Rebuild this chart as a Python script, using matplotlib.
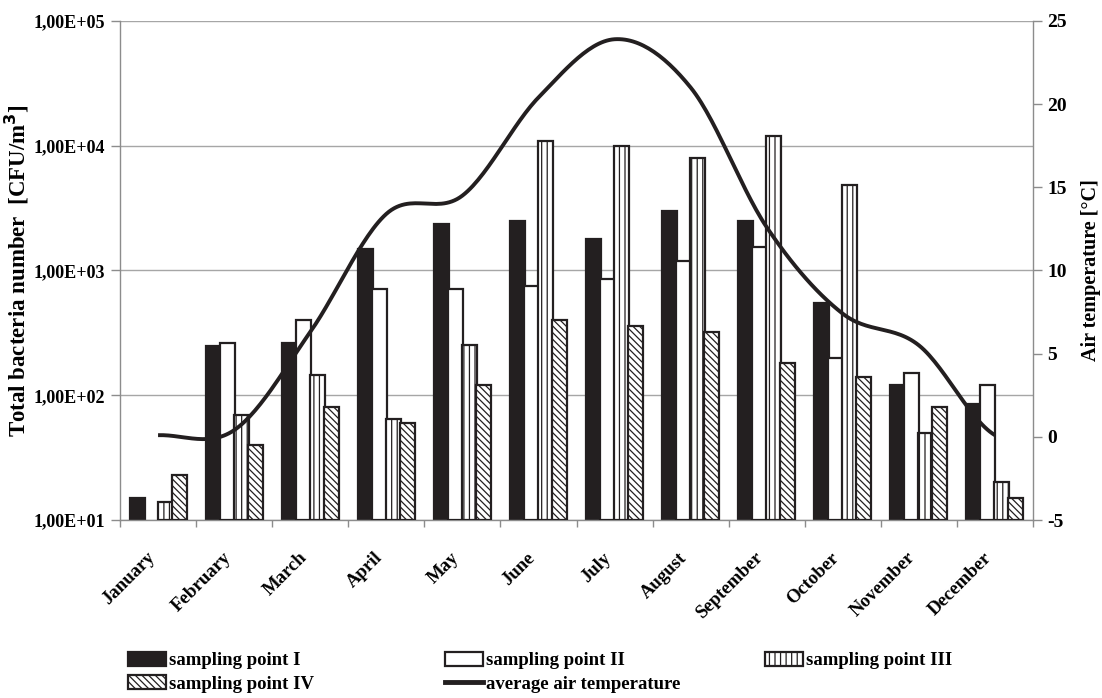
import numpy as np
import matplotlib.pyplot as plt
from matplotlib.patches import Patch
from matplotlib.lines import Line2D
from matplotlib.ticker import FixedLocator, FuncFormatter, NullLocator

plt.rcParams['font.family'] = ['Liberation Serif', 'DejaVu Serif']
plt.rcParams['font.weight'] = 'bold'
plt.rcParams['hatch.linewidth'] = 0.9
plt.rcParams['axes.unicode_minus'] = False

# data
months = ['January', 'February', 'March', 'April', 'May', 'June', 'July',
          'August', 'September', 'October', 'November', 'December']
point_i = [15, 250, 260, 1500, 2350, 2500, 1800, 3000, 2500, 550, 120, 85]
point_ii = [np.nan, 260, 400, 710, 710, 750, 850, 1200, 1550, 200, 150, 120]
point_iii = [14, 70, 145, 65, 255, 11000, 10000, 8000, 12000, 4800, 50, 20]
point_iv = [23, 40, 80, 60, 120, 400, 360, 320, 180, 140, 80, 15]
temp = [0.1, 0.4, 6.3, 13.4, 14.5, 20.4, 23.9, 21.0, 12.6, 7.4, 5.5, 0.1]

dark = '#231f20'
grey = '#8c8c8c'

fig = plt.figure(figsize=(11.02, 6.98), dpi=100)
ax = fig.add_axes([0.1089, 0.255, 0.8285, 0.715])

x = np.arange(len(months))
w = 0.197
s = 0.184
styles = [
    dict(color=dark, edgecolor=dark),
    dict(color='white', edgecolor=dark),
    dict(color='white', edgecolor=dark, hatch='|||'),
    dict(color='white', edgecolor=dark, hatch='\\\\\\\\\\'),
]
series = [point_i, point_ii, point_iii, point_iv]
for k, (vals, st) in enumerate(zip(series, styles)):
    v = np.array(vals, dtype=float)
    ax.bar(x + (k - 1.5) * s, v - 10, bottom=10, width=w, linewidth=1.6,
           zorder=2 + k, **st)

ax.set_yscale('log')
ax.set_ylim(10, 1e5)
ax.set_xlim(-0.5, 11.5)
ax.yaxis.set_major_locator(FixedLocator([1e1, 1e2, 1e3, 1e4, 1e5]))
ax.yaxis.set_minor_locator(NullLocator())
ax.yaxis.set_major_formatter(FuncFormatter(
    lambda v, p: '1,00E+%02d' % int(round(np.log10(v)))))
ax.yaxis.grid(True, color='#a6a6a6', linewidth=1.0)
ax.set_axisbelow(True)

ax.set_xticks(x)
ax.set_xticklabels(months, rotation=45, ha='right')
ax.set_xticks(np.arange(-0.5, 12, 1), minor=True)
ax.tick_params(axis='x', which='major', length=0, pad=21, labelsize=13.5)
ax.tick_params(axis='x', which='minor', length=5, width=1, color=grey)
ax.tick_params(axis='y', length=6.5, width=1, color=grey, pad=4, labelsize=13)

for side in ['left', 'bottom', 'right']:
    ax.spines[side].set_color(grey)
    ax.spines[side].set_linewidth(1)
ax.spines['top'].set_visible(False)

ax.set_ylabel('Total bacteria number  [CFU/m$^\\mathbf{3}$]', fontsize=16.5,
              fontweight='bold', labelpad=2)

# temperature on secondary axis, smoothed like a spreadsheet curve
ax2 = ax.twinx()
ax2.set_ylim(-5, 25)
ax2.set_yticks(np.arange(-5, 26, 5))
ax2.tick_params(axis='y', length=6.5, width=1, color=grey, pad=4, labelsize=14)
for side in ['left', 'bottom', 'right', 'top']:
    ax2.spines[side].set_visible(False)
ax2.set_ylabel('Air temperature [°C]', fontsize=14.5, fontweight='bold',
               labelpad=10)

t = np.array(temp)
n = len(t)
xs, ys = [], []
for i in range(n - 1):
    m0 = (t[i + 1] - t[i - 1]) / 2 if i > 0 else (t[1] - t[0]) / 2
    m1 = (t[i + 2] - t[i]) / 2 if i + 2 < n else (t[n - 1] - t[n - 2]) / 2
    u = np.linspace(0, 1, 30)
    h00 = 2 * u**3 - 3 * u**2 + 1
    h10 = u**3 - 2 * u**2 + u
    h01 = -2 * u**3 + 3 * u**2
    h11 = u**3 - u**2
    xs.extend(i + u)
    ys.extend(h00 * t[i] + h10 * m0 + h01 * t[i + 1] + h11 * m1)
ax2.plot(xs, ys, color=dark, linewidth=2.8, solid_capstyle='butt', zorder=10)

# legend laid out in three fixed columns like the original
h_i = Patch(facecolor=dark, edgecolor=dark, linewidth=1.6)
h_ii = Patch(facecolor='white', edgecolor=dark, linewidth=1.6)
h_iii = Patch(facecolor='white', edgecolor=dark, linewidth=1.6, hatch='|||')
h_iv = Patch(facecolor='white', edgecolor=dark, linewidth=1.6, hatch='\\\\\\\\\\')
h_t = Line2D([0], [0], color=dark, linewidth=3.5)

cols = [
    (128, [h_i, h_iv], ['sampling point I', 'sampling point IV']),
    (445, [h_ii, h_t], ['sampling point II', 'average air temperature']),
    (765, [h_iii], ['sampling point III']),
]
for px, hs, ls in cols:
    fig.legend(hs, ls, loc='upper left', bbox_to_anchor=(px / 1102, 1 - 652 / 698),
               frameon=False, borderpad=0, borderaxespad=0, handlelength=2.0,
               handleheight=0.75, handletextpad=0.2, labelspacing=0.32,
               prop=dict(family='Liberation Serif', weight='bold', size=13.5))

fig.savefig('out.png', dpi=100)
